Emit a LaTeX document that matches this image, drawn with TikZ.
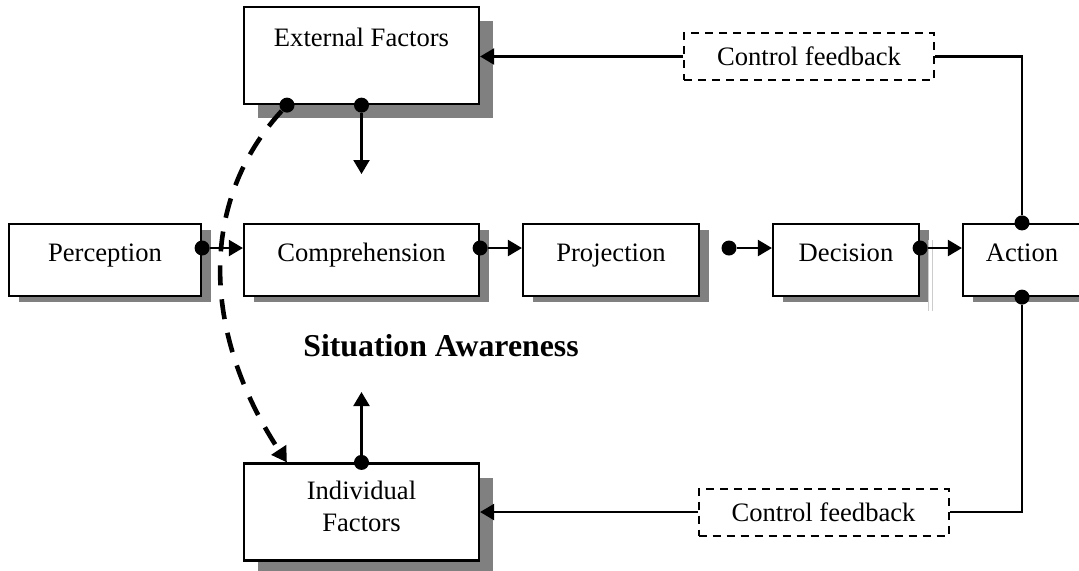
\documentclass[tikz,border=0pt]{standalone}
\usepackage{fontspec}
\setmainfont{Liberation Serif}
\usetikzlibrary{arrows.meta,positioning,shadows}

\begin{document}
\begin{tikzpicture}[
  x=0.5pt, y=-0.5pt,
  boxbase/.style={draw, line width=1.1pt, fill=white, font=\fontsize{13.3}{16}\selectfont},
  box/.style={boxbase, minimum height=36pt, text height=10pt, text depth=9pt,
    drop shadow={shadow xshift=5pt, shadow yshift=-3pt, fill=gray, opacity=1}},
  factor/.style={boxbase, minimum width=117.5pt, minimum height=48.5pt, align=center,
    drop shadow={shadow xshift=7pt, shadow yshift=-7pt, fill=gray, opacity=1}},
  feedback/.style={draw, line width=1pt, dash pattern=on 4pt off 3pt, fill=white,
    minimum width=125pt, minimum height=23.5pt, font=\fontsize{13.3}{16}\selectfont},
  joint/.style={circle, fill=black, inner sep=0pt, minimum size=7.5pt},
  wire/.style={line width=1.1pt},
  flow/.style={wire, -{Triangle[length=7pt, width=8pt]}},
  influence/.style={line width=2.3pt, dash pattern=on 10pt off 7pt, -{Triangle[length=7.5pt, width=8.5pt]}}
]
\useasboundingbox (0,0) rectangle (1079,570);

% Boxes
\node[box, minimum width=96pt] (perception) at (105,260) {Perception};
\node[box, minimum width=117.5pt] (comprehension) at (361.5,260) {Comprehension};
\node[box, minimum width=88pt] (projection) at (611,260) {Projection};
\node[box, minimum width=73pt] (decision) at (846,260) {Decision};
\node[box, minimum width=59pt] (action) at (1022,260) {Action};
\node[factor, text height=10pt, text depth=19.5pt] (external) at (361.5,55.5) {External Factors};
\node[factor, text depth=5.3pt] (individual) at (361.5,512) {Individual\\Factors};
\node[feedback] (fbtop) at (809,56.5) {Control feedback};
\node[feedback] (fbbottom) at (823.5,512) {Control feedback};
\node[font=\bfseries\fontsize{15.9}{19}\selectfont] (awareness) at (441,346) {Situation Awareness};

% stray lines beside Decision
\draw[gray!40, line width=0.4pt] (928,240) -- (928,311);
\draw[gray!40, line width=0.4pt] (932,240) -- (932,311);

% Joints
\node[joint] (j1) at ([yshift=6pt]perception.east) {};
\node[joint] (j2) at ([yshift=6pt]comprehension.east) {};
\node[joint] (j3) at (729,248) {};
\node[joint] (j4) at ([yshift=6pt]decision.east) {};
\node[joint] (j5) at (action.north) {};
\node[joint] (j6) at (action.south) {};
\node[joint] (j7) at (external.south) {};
\node[joint] (j8) at ([xshift=-37.25pt]external.south) {};
\node[joint] (j9) at (individual.north) {};
\coordinate (extend) at (361.5,174);
\coordinate (indend) at (361.5,392);
\coordinate (curveend) at ([xshift=22pt]individual.north west);

% Arrows
\draw[flow] (j1) -- (j1 -| comprehension.west);
\draw[flow] (j2) -- (j2 -| projection.west);
\draw[flow] (j3) -- (j3 -| decision.west);
\draw[flow] (j4) -- (j4 -| action.west);
\draw[wire] (j5) |- (fbtop.east);
\draw[flow] (fbtop.west) -- (fbtop.west -| external.east);
\draw[wire] (j6) |- (fbbottom.east);
\draw[flow] (fbbottom.west) -- (fbbottom.west -| individual.east);
\draw[flow] (j7) -- (extend);
\draw[flow] (j9) -- (indend);
\draw[influence] (j8) .. controls (200,200) and (200,330) .. (curveend);

\end{tikzpicture}
\end{document}
